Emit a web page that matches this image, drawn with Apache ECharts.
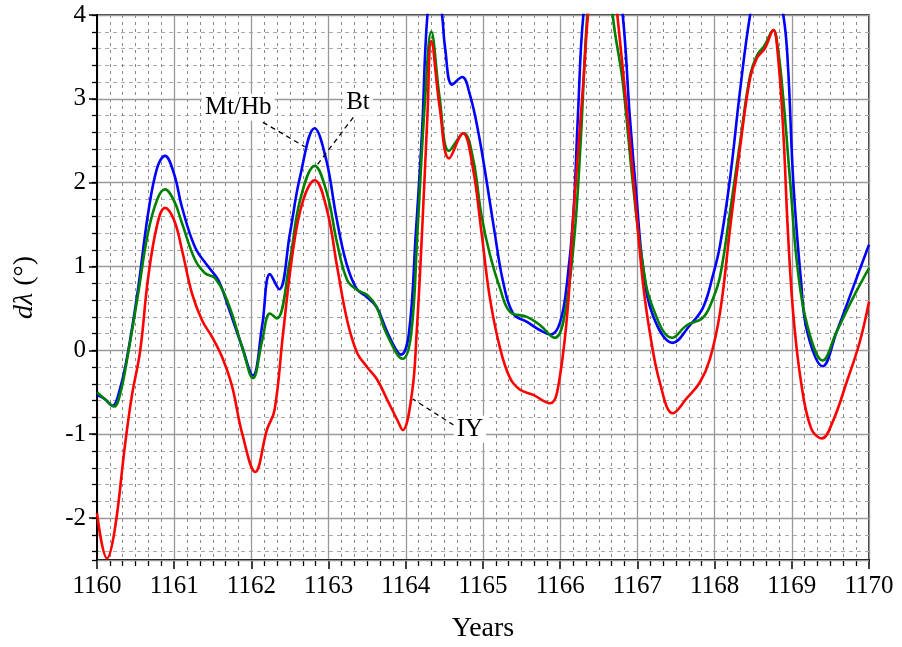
<!DOCTYPE html>
<html>
<head>
<meta charset="utf-8">
<script src="https://cdn.jsdelivr.net/npm/echarts@6/dist/echarts.min.js"></script>
<style>html,body{margin:0;padding:0;background:#fff}#c{width:902px;height:647px}</style>
</head>
<body>
<div id="c"></div>
<script>
// ---- data (year, dλ in degrees) ----
const xTicks = [1160, 1161, 1162, 1163, 1164, 1165, 1166, 1167, 1168, 1169, 1170];
const yTicks = [-2, -1, 0, 1, 2, 3, 4];

const mtHb = [
  [1160.00,-0.53],[1160.10,-0.58],[1160.20,-0.66],[1160.30,-0.45],[1160.40,-0.03],[1160.53,0.72],
  [1160.66,1.62],[1160.78,2.18],[1160.88,2.32],[1161.00,2.10],[1161.10,1.71],[1161.27,1.23],[1161.44,1.00],
  [1161.57,0.84],[1161.70,0.52],[1161.88,0.04],[1162.02,-0.30],[1162.14,0.30],[1162.24,0.91],
  [1162.36,0.73],[1162.50,1.40],[1162.63,2.07],[1162.82,2.65],[1162.97,2.27],[1163.10,1.59],
  [1163.23,1.04],[1163.36,0.74],[1163.49,0.64],[1163.62,0.52],[1163.75,0.24],[1163.88,0.00],
  [1163.94,-0.05],[1164.04,0.20],[1164.13,1.40],[1164.21,2.60],[1164.28,4.00],[1164.38,4.60],
  [1164.47,4.00],[1164.51,3.60],[1164.60,3.17],[1164.73,3.26],[1164.83,3.05],[1164.94,2.60],
  [1165.05,2.00],[1165.15,1.41],[1165.26,0.82],[1165.39,0.44],[1165.57,0.34],[1165.74,0.24],
  [1165.88,0.19],[1166.00,0.34],[1166.09,0.82],[1166.17,1.61],[1166.23,2.81],[1166.30,4.00],
  [1166.55,6.00],[1166.81,4.00],[1166.90,2.81],[1166.99,1.81],[1167.07,1.02],[1167.20,0.42],
  [1167.46,0.09],[1167.68,0.30],[1167.85,0.51],[1167.98,0.90],[1168.07,1.25],[1168.20,2.05],
  [1168.33,3.10],[1168.46,4.00],[1168.67,5.00],[1168.89,4.00],[1168.95,3.40],[1169.02,2.00],
  [1169.12,0.82],[1169.20,0.22],[1169.40,-0.19],[1169.58,0.22],[1169.79,0.74],[1170.00,1.26]
];

const bt = [
  [1160.00,-0.50],[1160.10,-0.58],[1160.22,-0.67],[1160.30,-0.52],[1160.40,-0.05],[1160.53,0.66],
  [1160.66,1.40],[1160.78,1.80],[1160.88,1.92],[1161.00,1.78],[1161.10,1.52],[1161.27,1.08],[1161.40,0.92],
  [1161.53,0.86],[1161.70,0.56],[1161.88,0.04],[1162.02,-0.33],[1162.14,0.12],[1162.24,0.44],
  [1162.33,0.38],[1162.50,1.08],[1162.63,1.79],[1162.82,2.20],[1162.98,1.87],[1163.11,1.28],
  [1163.24,0.84],[1163.37,0.72],[1163.50,0.66],[1163.62,0.52],[1163.75,0.20],[1163.96,-0.10],
  [1164.07,0.20],[1164.15,1.40],[1164.25,3.00],[1164.33,3.80],[1164.44,3.00],[1164.56,2.38],
  [1164.75,2.59],[1164.87,2.29],[1164.98,1.61],[1165.09,1.14],[1165.22,0.74],[1165.35,0.46],
  [1165.57,0.40],[1165.74,0.30],[1165.93,0.15],[1166.04,0.34],[1166.17,1.22],[1166.26,2.40],
  [1166.35,4.00],[1166.52,5.80],[1166.68,4.00],[1166.81,3.20],[1166.94,2.00],[1167.07,1.02],
  [1167.20,0.51],[1167.45,0.15],[1167.64,0.30],[1167.85,0.39],[1167.98,0.62],[1168.07,0.88],
  [1168.20,1.65],[1168.33,2.48],[1168.46,3.28],[1168.55,3.52],[1168.65,3.64],[1168.76,3.82],
  [1168.82,3.60],[1168.89,3.00],[1168.98,2.00],[1169.07,1.02],[1169.20,0.30],[1169.40,-0.12],
  [1169.58,0.22],[1169.79,0.62],[1170.00,0.98]
];

const iy = [
  [1160.00,-1.94],[1160.13,-2.48],[1160.23,-2.14],[1160.36,-1.15],[1160.45,-0.55],[1160.56,0.00],
  [1160.66,0.85],[1160.78,1.50],[1160.88,1.70],[1161.00,1.55],[1161.10,1.20],[1161.23,0.68],[1161.36,0.36],
  [1161.49,0.16],[1161.62,-0.08],[1161.75,-0.43],[1161.88,-0.99],[1162.05,-1.45],[1162.20,-0.95],
  [1162.30,-0.71],[1162.41,0.20],[1162.54,1.20],[1162.67,1.79],[1162.82,2.03],[1162.98,1.67],
  [1163.11,1.00],[1163.24,0.36],[1163.37,-0.03],[1163.50,-0.20],[1163.63,-0.35],[1163.76,-0.59],
  [1163.89,-0.83],[1163.96,-0.95],[1164.08,-0.51],[1164.14,0.20],[1164.21,1.40],[1164.28,2.80],
  [1164.33,3.69],[1164.44,2.89],[1164.56,2.29],[1164.74,2.59],[1164.87,2.17],[1164.98,1.41],
  [1165.09,0.62],[1165.22,0.03],[1165.35,-0.33],[1165.48,-0.47],[1165.65,-0.53],[1165.87,-0.63],
  [1165.96,-0.50],[1166.09,0.42],[1166.17,1.61],[1166.30,3.20],[1166.36,4.00],[1166.55,5.70],
  [1166.74,4.00],[1166.87,2.81],[1166.99,1.61],[1167.07,0.82],[1167.16,0.22],[1167.29,-0.38],
  [1167.46,-0.75],[1167.64,-0.57],[1167.81,-0.38],[1167.94,-0.10],[1168.07,0.45],[1168.20,1.45],
  [1168.33,2.42],[1168.46,3.25],[1168.55,3.49],[1168.65,3.60],[1168.76,3.82],[1168.82,3.52],
  [1168.89,2.60],[1168.95,1.41],[1169.02,0.42],[1169.12,-0.38],[1169.25,-0.93],[1169.39,-1.05],
  [1169.53,-0.85],[1169.71,-0.38],[1169.88,0.10],[1170.00,0.58]
];

// annotations: [label, textX, textY, lineStartX, lineStartY, lineEndX, lineEndY]
const notes = [
  ['Mt/Hb', 1161.83, 2.90, 1162.15, 2.72, 1162.69, 2.43],
  ['Bt',    1163.38, 2.96, 1163.32, 2.78, 1162.85, 2.21],
  ['IY',    1164.83, -0.94, 1164.62, -0.89, 1164.09, -0.58]
];

const FONT = 'Liberation Serif, Times New Roman, serif';
const chart = echarts.init(document.getElementById('c'), null, {renderer: 'canvas'});

const lineSeries = (name, data, color, z) => ({
  name, type: 'line', data, smooth: 0.4, showSymbol: false, symbol: 'none',
  clip: true, z,
  lineStyle: {color, width: 2.6}, itemStyle: {color}, animation: false
});

const red = lineSeries('IY', iy, '#ff0000', 4);
red.markLine = {
  silent: true, symbol: ['none', 'none'], animation: false,
  label: {show: false},
  lineStyle: {color: '#000', width: 1.3, type: [5, 4]},
  data: notes.map(n => [{coord: [n[3], n[4]]}, {coord: [n[5], n[6]]}])
};
red.markPoint = {
  silent: true, animation: false, symbol: 'rect', symbolSize: 1,
  itemStyle: {color: 'rgba(0,0,0,0)'},
  label: {show: true, position: 'inside', formatter: '{b}', color: '#000',
          fontFamily: FONT, fontSize: 25, backgroundColor: '#fff', padding: [1, 3]},
  data: notes.map(n => ({name: n[0], coord: [n[1], n[2]]}))
};

chart.setOption({
  animation: false,
  backgroundColor: '#fff',
  grid: {left: 97, right: 33, top: 15, bottom: 87, show: true, borderColor: '#000', borderWidth: 1.5,
         containLabel: false, outerBoundsMode: 'none'},
  xAxis: {
    type: 'value', min: xTicks[0], max: xTicks[xTicks.length - 1], interval: 1,
    name: 'Years', nameLocation: 'middle', nameGap: 55,
    nameTextStyle: {fontFamily: FONT, fontSize: 28, color: '#000'},
    axisLine: {show: true, onZero: false, lineStyle: {color: '#000', width: 2}},
    axisTick: {show: true, inside: false, length: 9, lineStyle: {color: '#000', width: 1.5}},
    minorTick: {show: true, splitNumber: 6, length: 6, lineStyle: {color: '#000', width: 1.3}},
    axisLabel: {margin: 14, fontFamily: FONT, fontSize: 25, color: '#000',
                formatter: v => xTicks.includes(v) ? String(v) : ''},
    splitLine: {show: true, lineStyle: {color: '#999', width: 1.3}},
    minorSplitLine: {show: true, lineStyle: {color: '#888', width: 1, type: [3, 4]}}
  },
  yAxis: [{
    type: 'value', min: -2.5, max: yTicks[yTicks.length - 1], splitNumber: 6, position: 'left', z: 1,
    name: '{i|dλ} (°)', nameLocation: 'middle', nameGap: 58, nameRotate: 90,
    nameTextStyle: {fontFamily: FONT, fontSize: 28, color: '#000',
                    rich: {i: {fontFamily: FONT, fontSize: 28, fontStyle: 'italic', color: '#000'}}},
    axisLine: {show: true, onZero: false, lineStyle: {color: '#000', width: 2}},
    axisTick: {show: true, inside: false, length: 8, lineStyle: {color: '#000', width: 1.5}},
    axisLabel: {margin: 11, fontFamily: FONT, fontSize: 25, color: '#000', showMinLabel: false,
                formatter: v => yTicks.includes(v) ? String(v) : ''},
    splitLine: {show: true, lineStyle: {color: '#999', width: 1.3}}
  }, {
    type: 'value', min: -2.5, max: yTicks[yTicks.length - 1], splitNumber: 32, position: 'left', z: 0,
    axisLine: {show: false},
    axisTick: {show: true, inside: false, length: 5, lineStyle: {color: '#000', width: 1.3}},
    axisLabel: {show: false},
    splitLine: {show: true, lineStyle: {color: '#aaa', width: 1, type: [4, 4]}}
  }],
  series: [
    lineSeries('Mt/Hb', mtHb, '#0000ff', 2),
    lineSeries('Bt', bt, '#008000', 3),
    red
  ]
});
</script>
</body>
</html>
